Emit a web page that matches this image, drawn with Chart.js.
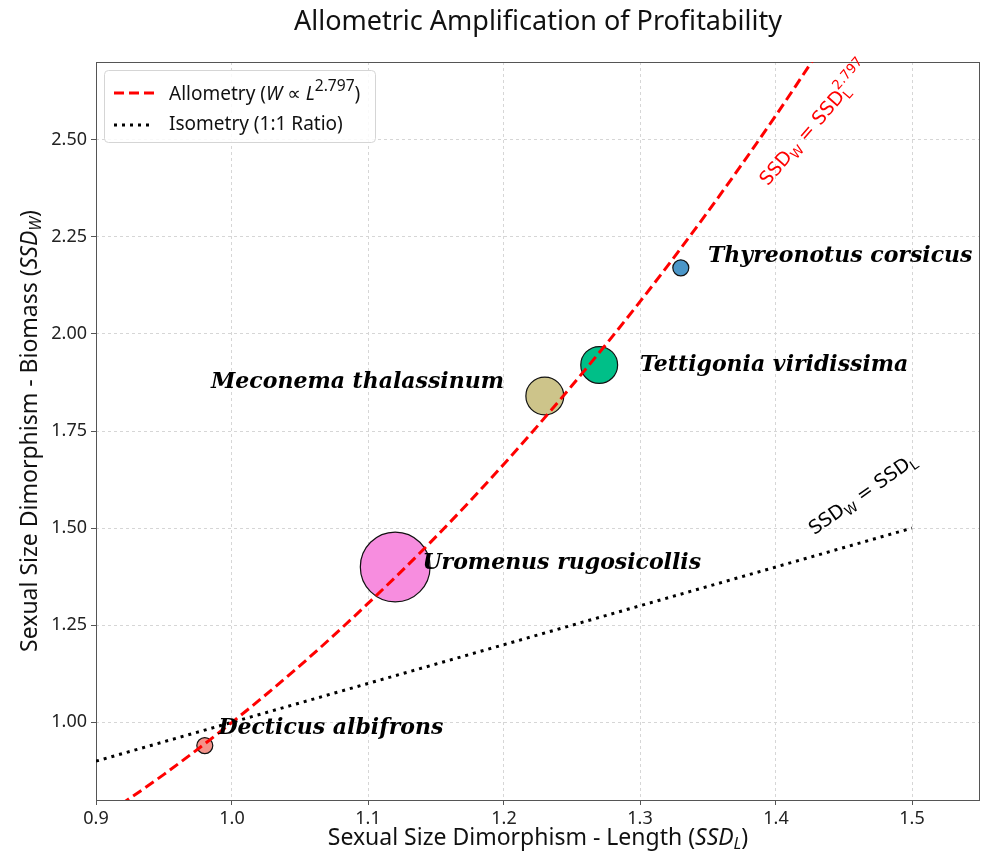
<!DOCTYPE html>
<html>
<head>
<meta charset="utf-8">
<script src="https://cdn.jsdelivr.net/npm/chart.js@4"></script>
<style>
  body { margin: 0; background: #fff; }
  canvas { display: block; }
</style>
</head>
<body>
<canvas id="allometryChart" width="981" height="854"></canvas>
<script>
// species data
const species = ['Decticus albifrons', 'Uromenus rugosicollis', 'Meconema thalassinum', 'Tettigonia viridissima', 'Thyreonotus corsicus'];
const ssdLength = [0.98, 1.12, 1.23, 1.27, 1.33];
const ssdBiomass = [0.94, 1.40, 1.84, 1.92, 2.17];
const bubbleValue = [1.0, 19.0, 5.6, 5.3, 1.0];
const speciesColors = ['#f4938a', '#f78ddf', '#cdc48a', '#00bf88', '#4b96c8'];

// allometric fit (W ~ L^2.797)
const fitX = [0.90, 0.95, 1.00, 1.05, 1.10, 1.15, 1.20, 1.25, 1.30, 1.35, 1.40, 1.45];
const fitY = [0.745, 0.866, 1.000, 1.146, 1.306, 1.478, 1.665, 1.867, 2.083, 2.315, 2.563, 2.827];

// isometry 1:1
const isoX = [0.90, 1.50];
const isoY = [0.90, 1.50];

const xTicks = [0.9, 1.0, 1.1, 1.2, 1.3, 1.4, 1.5];
const yTicks = [1.00, 1.25, 1.50, 1.75, 2.00, 2.25, 2.50];

// where the species names sit (data coords)
const labelPlacement = [
    { x: 0.99, y: 0.985, align: 'left' },
    { x: 1.14, y: 1.41, align: 'left' },
    { x: 1.20, y: 1.875, align: 'right' },
    { x: 1.30, y: 1.92, align: 'left' },
    { x: 1.35, y: 2.20, align: 'left' }
];

const SANS = '"Noto Sans", "DejaVu Sans", sans-serif';

// draws text made of parts with italic / sub / sup pieces
function richWidth(ctx, parts, size, family) {
    let w = 0;
    parts.forEach(p => {
        const it = p.italic ? 'italic ' : '';
        if (p.sub || p.sup) {
            ctx.font = `${it}${size * (p.scale || 0.7)}px ${family}`;
            const a = p.sub ? ctx.measureText(p.sub).width : 0;
            const b = p.sup ? ctx.measureText(p.sup).width : 0;
            w += Math.max(a, b);
        } else {
            ctx.font = `${it}${size}px ${family}`;
            w += ctx.measureText(p.t).width;
        }
    });
    return w;
}

function drawRich(ctx, parts, x, y, size, family, color, align) {
    const total = richWidth(ctx, parts, size, family);
    let cx = x;
    if (align === 'center') cx = x - total / 2;
    if (align === 'right') cx = x - total;
    ctx.fillStyle = color;
    ctx.textBaseline = 'middle';
    ctx.textAlign = 'left';
    parts.forEach(p => {
        const it = p.italic ? 'italic ' : '';
        if (p.sub || p.sup) {
            ctx.font = `${it}${size * (p.scale || 0.7)}px ${family}`;
            let w = 0;
            if (p.sub) {
                ctx.fillText(p.sub, cx, y + size * 0.3);
                w = ctx.measureText(p.sub).width;
            }
            if (p.sup) {
                ctx.fillText(p.sup, cx, y - size * 0.45);
                w = Math.max(w, ctx.measureText(p.sup).width);
            }
            cx += w;
        } else {
            ctx.font = `${it}${size}px ${family}`;
            ctx.fillText(p.t, cx, y);
            cx += ctx.measureText(p.t).width;
        }
    });
}

const decorPlugin = {
    id: 'decor',
    beforeDatasetsDraw(chart) {
        const { ctx, chartArea: a } = chart;
        ctx.save();
        ctx.strokeStyle = '#555';
        ctx.lineWidth = 1;
        ctx.strokeRect(a.left + 0.5, a.top + 0.5, a.right - a.left - 1, a.bottom - a.top);
        ctx.restore();
    },
    afterDatasetsDraw(chart) {
        const { ctx, chartArea: a, scales } = chart;
        const xs = scales.x, ys = scales.y;
        ctx.save();

        // species names
        ctx.font = 'italic bold 22px "DejaVu Serif", serif';
        ctx.fillStyle = '#000';
        ctx.textBaseline = 'middle';
        species.forEach((name, i) => {
            const lp = labelPlacement[i];
            ctx.textAlign = lp.align;
            ctx.fillText(name, xs.getPixelForValue(lp.x), ys.getPixelForValue(lp.y));
        });

        // line annotations
        ctx.save();
        ctx.translate(xs.getPixelForValue(1.429), ys.getPixelForValue(2.54));
        ctx.rotate(-49 * Math.PI / 180);
        drawRich(ctx, [{ t: 'SSD' }, { sub: 'W' }, { t: ' = SSD' }, { sub: 'L', sup: '2.797' }],
            0, 0, 19, '"DejaVu Sans", sans-serif', '#ff0000', 'center');
        ctx.restore();

        ctx.save();
        ctx.translate(xs.getPixelForValue(1.464), ys.getPixelForValue(1.585));
        ctx.rotate(-35 * Math.PI / 180);
        drawRich(ctx, [{ t: 'SSD' }, { sub: 'W' }, { t: ' = SSD' }, { sub: 'L' }],
            0, 0, 19, '"DejaVu Sans", sans-serif', '#000', 'center');
        ctx.restore();

        // legend box
        const lx = a.left + 8, ly = a.top + 8, lw = 271, lh = 72;
        ctx.beginPath();
        ctx.roundRect(lx + 0.5, ly + 0.5, lw, lh, 4);
        ctx.fillStyle = 'rgba(255,255,255,0.85)';
        ctx.fill();
        ctx.strokeStyle = '#d5d5d5';
        ctx.lineWidth = 1;
        ctx.stroke();

        ctx.lineCap = 'butt';
        ctx.beginPath();
        ctx.setLineDash([10, 5]);
        ctx.strokeStyle = '#ff0000';
        ctx.lineWidth = 3;
        ctx.moveTo(lx + 10, ly + 23);
        ctx.lineTo(lx + 50, ly + 23);
        ctx.stroke();

        ctx.beginPath();
        ctx.setLineDash([3, 5]);
        ctx.strokeStyle = '#000';
        ctx.moveTo(lx + 10, ly + 55);
        ctx.lineTo(lx + 50, ly + 55);
        ctx.stroke();
        ctx.setLineDash([]);

        drawRich(ctx, [{ t: 'Allometry (' }, { t: 'W', italic: true }, { t: ' ∝ ' }, { t: 'L', italic: true },
            { sup: '2.797', scale: 0.82 }, { t: ')' }], lx + 65, ly + 25, 19, SANS, '#111', 'left');
        drawRich(ctx, [{ t: 'Isometry (1:1 Ratio)' }], lx + 65, ly + 55, 19, SANS, '#111', 'left');

        ctx.restore();
    },
    afterDraw(chart) {
        const { ctx, chartArea: a } = chart;
        ctx.save();
        // title
        ctx.font = `27px ${SANS}`;
        ctx.fillStyle = '#111';
        ctx.textAlign = 'center';
        ctx.textBaseline = 'middle';
        ctx.fillText('Allometric Amplification of Profitability', (a.left + a.right) / 2, 22);

        // axis titles
        drawRich(ctx, [{ t: 'Sexual Size Dimorphism - Length (' }, { t: 'SSD', italic: true },
            { sub: 'L', italic: true }, { t: ')' }], (a.left + a.right) / 2, 838, 23, SANS, '#111', 'center');

        ctx.translate(30, (a.top + a.bottom) / 2);
        ctx.rotate(-Math.PI / 2);
        drawRich(ctx, [{ t: 'Sexual Size Dimorphism - Biomass (' }, { t: 'SSD', italic: true },
            { sub: 'W', italic: true }, { t: ')' }], 0, 0, 23, SANS, '#111', 'center');
        ctx.restore();
    }
};

const ctx = document.getElementById('allometryChart').getContext('2d');

new Chart(ctx, {
    type: 'scatter',
    data: {
        datasets: [
            {
                label: 'Allometry',
                type: 'line',
                data: fitX.map((x, i) => ({ x, y: fitY[i] })),
                borderColor: '#ff0000',
                borderWidth: 3,
                borderDash: [10, 5],
                borderCapStyle: 'butt',
                pointRadius: 0,
                cubicInterpolationMode: 'monotone',
                fill: false,
                order: 1
            },
            {
                label: 'Isometry',
                type: 'line',
                data: isoX.map((x, i) => ({ x, y: isoY[i] })),
                borderColor: '#000',
                borderWidth: 3,
                borderDash: [3, 5],
                borderCapStyle: 'butt',
                pointRadius: 0,
                fill: false,
                order: 1
            },
            {
                label: 'Species',
                data: ssdLength.map((x, i) => ({ x, y: ssdBiomass[i] })),
                pointRadius: bubbleValue.map(v => 8 * Math.sqrt(v)),
                pointBackgroundColor: speciesColors,
                pointBorderColor: '#111',
                pointBorderWidth: 1.2,
                order: 2
            }
        ]
    },
    options: {
        responsive: false,
        animation: false,
        layout: { autoPadding: false, padding: { left: 0, right: 1, top: 62, bottom: 0 } },
        plugins: {
            legend: { display: false },
            tooltip: { enabled: false }
        },
        scales: {
            x: {
                type: 'linear',
                min: 0.9,
                max: 1.55,
                afterBuildTicks: scale => { scale.ticks = xTicks.map(v => ({ value: v })); },
                afterFit: scale => {
                    scale.height = 54;
                    scale.paddingLeft = 0;
                    scale.paddingRight = 0;
                },
                ticks: {
                    callback: v => v.toFixed(1),
                    color: '#222',
                    font: { family: SANS, size: 18 },
                    padding: 3
                },
                grid: { color: '#d6d6d6', tickColor: '#555', tickLength: 5 },
                border: { display: false, dash: [3, 3] }
            },
            y: {
                type: 'linear',
                min: 0.8,
                max: 2.7,
                afterBuildTicks: scale => { scale.ticks = yTicks.map(v => ({ value: v })); },
                afterFit: scale => {
                    scale.width = 96;
                    scale.paddingTop = 0;
                    scale.paddingBottom = 0;
                },
                ticks: {
                    callback: v => v.toFixed(2),
                    color: '#222',
                    font: { family: SANS, size: 18 },
                    padding: 4
                },
                grid: { color: '#d6d6d6', tickColor: '#555', tickLength: 5 },
                border: { display: false, dash: [3, 3] }
            }
        }
    },
    plugins: [decorPlugin]
});
</script>
</body>
</html>
